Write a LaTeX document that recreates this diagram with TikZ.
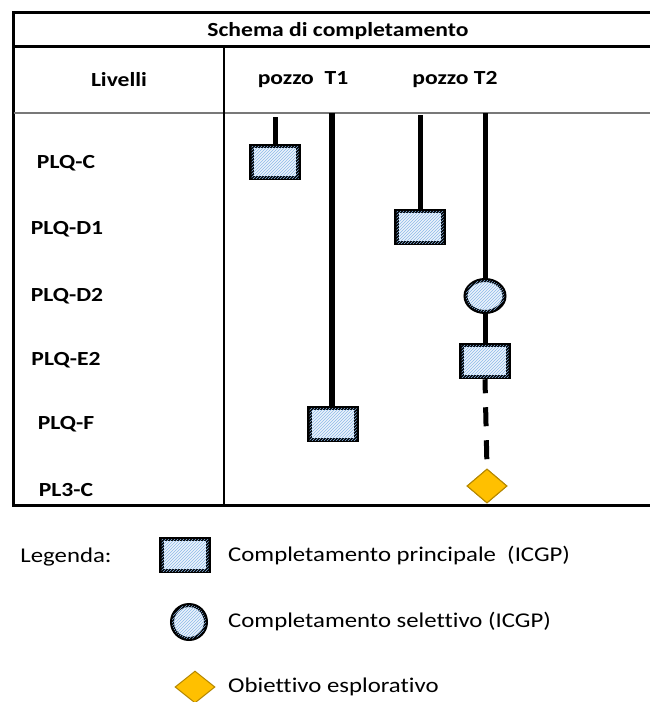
\documentclass[tikz,border=0pt]{standalone}
\usepackage{fontspec}
\setmainfont[FakeStretch=1.18,Ligatures=NoCommon]{Carlito}
\usetikzlibrary{patterns,shapes.geometric}
\definecolor{hatchbg}{RGB}{236,243,251}
\definecolor{hatchln}{RGB}{140,185,232}
\definecolor{gold}{RGB}{255,192,0}
\definecolor{goldedge}{RGB}{180,135,0}
\definecolor{sepgray}{RGB}{120,120,120}
\begin{document}
\begin{tikzpicture}[x=1pt,y=-1pt,
  lbl/.style={font=\bfseries\fontsize{20}{24}\selectfont, inner sep=0pt},
  leg/.style={font=\fontsize{21}{25}\selectfont, anchor=west, inner sep=0pt},
  hatch/.style={fill=hatchbg, postaction={pattern=north east lines, pattern color=hatchln}},
  princ/.style={rectangle, draw=black, line width=4.5pt, hatch, minimum width=47pt, minimum height=32pt, inner sep=0pt},
  selet/.style={ellipse, draw=black, line width=4pt, hatch, minimum width=39pt, minimum height=32pt, inner sep=0pt},
  obj/.style={diamond, draw=goldedge, line width=1pt, fill=gold, minimum width=40pt, minimum height=34pt, inner sep=0pt},
  well/.style={line width=5pt},
  frame/.style={line width=3pt},
]
\useasboundingbox (0,0) rectangle (650,702);
\fill[white] (0,0) rectangle (650,702);

% table frame
\draw[frame] (650,12.5) -- (13.5,12.5) -- (13.5,505) -- (650,505);
\draw[frame] (13.5,46.5) -- (650,46.5);
\draw[line width=2pt, sepgray] (13.5,113) -- (650,113);
\draw[line width=1.8pt] (224,46.5) -- (224,505);

% header texts
\node[lbl] (title) at (338,31) {Schema di completamento};
\node[lbl] (liv) at (119,80) {Livelli};
\node[lbl] (p1) at (303,80) {pozzo\ \ T1};
\node[lbl] (p2) at (455,80) {pozzo T2};

% level labels
\node[lbl] (lC) at (66,163) {PLQ-C};
\node[lbl] (lD1) at (67,229) {PLQ-D1};
\node[lbl] (lD2) at (67,296) {PLQ-D2};
\node[lbl] (lE2) at (66,360) {PLQ-E2};
\node[lbl] (lF) at (66,424) {PLQ-F};
\node[lbl] (l3C) at (66,490) {PL3-C};

% well T1
\coordinate (t1a) at (275,117);
\coordinate (t1b) at (332,113);
\draw[well] (t1a) -- (275,162);
\draw[well, line width=6.5pt] (t1b) -- (332,424);
\node[princ] (bC) at (275,162) {};
\node[princ] (bF) at (333,424) {};

% well T2
\coordinate (t2a) at (420,115);
\coordinate (t2b) at (485,113);
\draw[well] (t2a) -- (420,227);
\node[princ] (bD1) at (420,227) {};
\draw[well] (t2b) -- (485,296);
\node[selet] (cD2) at (485,296) {};
\node[princ] (bE2) at (485,361) {};
\draw[well] (cD2) -- (bE2);
\node[obj] (dC) at (487,486) {};
\draw[well, dash pattern=on 19pt off 14pt, dash phase=5pt] (bE2.south) -- (dC.north);
\node[obj] at (487,486) {};

% legend
\node[font=\fontsize{21}{25}\selectfont, inner sep=0pt] (legt) at (66,557) {Legenda:};
\node[princ] (lgb) at (185,555) {};
\node[leg] (lg1) at (228,556) {Completamento principale\ \ (ICGP)};
\node[selet, minimum width=34pt, minimum height=34pt] (lgc) at (189,622) {};
\node[leg] (lg2) at (228,622) {Completamento selettivo (ICGP)};
\node[obj, minimum width=40pt, minimum height=32pt] (lgd) at (195,687) {};
\node[leg] (lg3) at (228,687) {Obiettivo esplorativo};
\end{tikzpicture}
\end{document}
